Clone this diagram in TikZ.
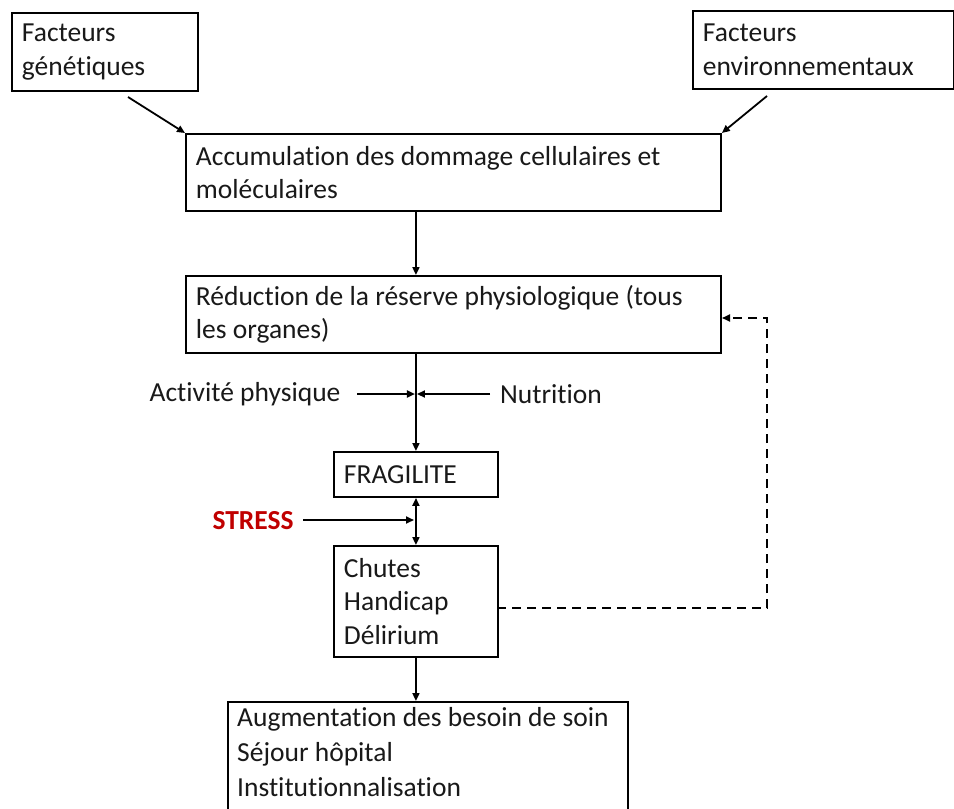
\documentclass[tikz,border=0pt]{standalone}
\usepackage{fontspec}
\setmainfont{Carlito}[Ligatures=NoCommon]
\usetikzlibrary{arrows.meta,calc}
\definecolor{stressred}{RGB}{192,0,0}
\begin{document}
\begin{tikzpicture}[x=1pt,y=-1pt,
  every node/.style={font=\fontsize{27.5}{33.5}\selectfont, text=black!90},
  box/.style={draw, line width=1.9pt, rectangle, anchor=north west, align=flush left,
    inner xsep=10pt, inner ysep=0pt},
  tip/.style={-{Triangle[length=8pt,width=7pt]}},
  flow/.style={line width=1.8pt, tip},
  dflow/.style={line width=1.8pt, {Triangle[length=8pt,width=7pt]}-{Triangle[length=8pt,width=7pt]}},
  fb/.style={line width=1.8pt, dash pattern=on 9pt off 6pt, tip}]
\useasboundingbox (0,0) rectangle (954,809);
\clip (0,0) rectangle (954,809);
\fill[white] (0,0) rectangle (954,809);

% boxes
\node[box, text width=166pt, minimum height=78pt]  (gen)    at (11,12)   {Facteurs\\génétiques};
\node[box, text width=241pt, minimum height=78pt]  (env)    at (692,10)  {Facteurs\\environnementaux};
\node[box, text width=515pt, minimum height=77pt]  (acc)    at (185,133) {Accumulation des dommage cellulaires et\\moléculaires};
\node[box, text width=515pt, minimum height=77pt]  (red)    at (185,275) {Réduction de la réserve physiologique (tous\\les organes)};
\node[box, text width=144pt, minimum height=45pt]  (frag)   at (333,451) {FRAGILITE};
\node[box, text width=144pt, minimum height=111pt] (chutes) at (333,545) {Chutes\\Handicap\\Délirium};
\node[box, text width=380pt, minimum height=140pt] (soins)  at (227,701) {};
\node[anchor=north west, align=flush left, inner sep=0pt,
      font=\fontsize{27.5}{35}\selectfont] (soinstxt) at (237,707)
  {Augmentation des besoin de soin\\Séjour hôpital\\Institutionnalisation};

% free labels
\node (act) at (245,394) {Activité physique};
\node (nut) at (551,394) {Nutrition};
\node[text=stressred, font=\fontsize{27.5}{33.5}\selectfont\bfseries] (stress) at (253,521) {STRESS};

% connector end points
\coordinate (g0) at (128,97);
\coordinate (e0) at (767,96);
\coordinate (j1) at (frag.north |- act);
\coordinate (a0) at (357,394);
\coordinate (n0) at (490,394);
\coordinate (s0) at (303,520);
\coordinate (j2) at (415,520);
\coordinate (d0) at (497,608);
\coordinate (d1) at (767,608);
\coordinate (d2) at (767,318);
\coordinate (d3) at (722,318);

% connectors
\draw[flow] (g0) -- (acc.north west);
\draw[flow] (e0) -- (acc.north east);
\draw[flow] (frag.north |- acc.south) -- (frag.north |- red.north);
\draw[flow] (frag.north |- red.south) -- (frag.north);
\draw[flow] (a0) -- ($(j1)+(-1,0)$);
\draw[flow] (n0) -- ($(j1)+(1,0)$);
\draw[dflow] (frag.south) -- (chutes.north);
\draw[flow] (s0) -- ($(j2)+(-1,0)$);
\draw[flow] (chutes.south) -- (chutes.south |- soins.north);
\draw[fb] (d0) -- (d1) -- (d2) -- (d3);
\end{tikzpicture}
\end{document}
